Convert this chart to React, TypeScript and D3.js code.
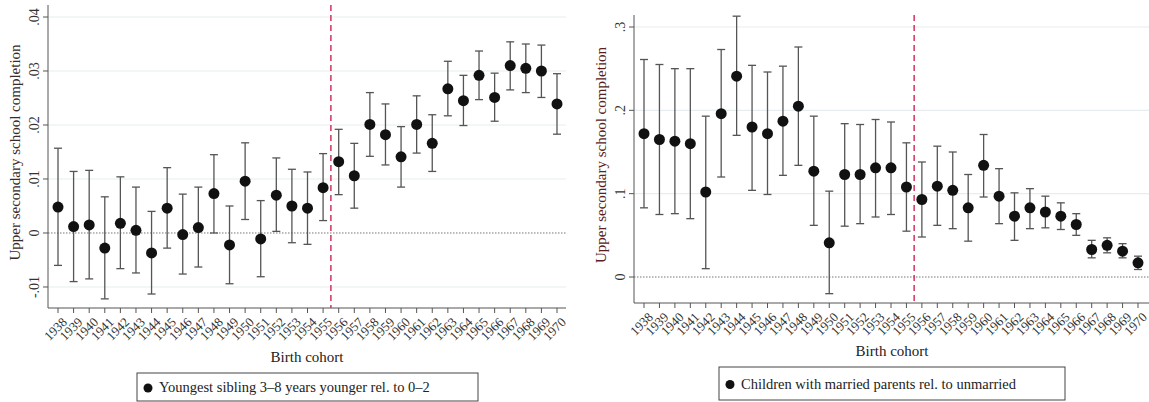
import React from "react";
import * as d3 from "d3";

const years = d3.range(1938, 1971);
const leftVal = [.0048,.0012,.0015,-.0028,.0018,.0005,-.0037,.0046,-.0003,.001,.0073,-.0022,.0096,-.0011,.007,.005,.0046,.0084,.0132,.0106,.0201,.0182,.0141,.0201,.0166,.0267,.0245,.0292,.0251,.031,.0305,.03,.0239];
const leftLo = [-.006,-.009,-.0085,-.0122,-.0066,-.0074,-.0113,-.0028,-.0076,-.0063,0,-.0094,.0025,-.0081,.0003,-.0018,-.0021,.0023,.0071,.0046,.0142,.0126,.0085,.0148,.0114,.0217,.0199,.0247,.0207,.0265,.026,.0251,.0183];
const leftHi = [.0157,.0114,.0116,.0067,.0104,.0085,.004,.0121,.0072,.0085,.0145,.005,.0167,.006,.0139,.0118,.0113,.0147,.0192,.0166,.026,.0239,.0197,.0254,.0219,.0318,.0292,.0337,.0296,.0354,.035,.0348,.0295];
const rightVal = [.172,.165,.163,.16,.102,.196,.241,.18,.172,.187,.205,.127,.041,.123,.123,.131,.131,.108,.093,.109,.104,.083,.134,.097,.073,.083,.078,.073,.063,.033,.038,.031,.017];
const rightLo = [.083,.075,.076,.07,.01,.12,.17,.104,.099,.122,.134,.062,-.02,.061,.064,.072,.075,.055,.048,.062,.058,.043,.096,.064,.044,.058,.059,.057,.05,.023,.029,.023,.009];
const rightHi = [.261,.255,.25,.25,.193,.273,.313,.254,.246,.253,.276,.193,.103,.184,.183,.189,.186,.161,.138,.157,.15,.123,.171,.13,.101,.106,.097,.089,.076,.044,.047,.04,.025];
const leftTicks = [-0.01, 0, 0.01, 0.02, 0.03, 0.04];
const leftTickLabels = ["-.01", "0", ".01", ".02", ".03", ".04"];
const rightTicks = [0, 0.1, 0.2, 0.3];
const rightTickLabels = ["0", ".1", ".2", ".3"];
const legendLeft = "Youngest sibling 3–8 years younger rel. to 0–2";
const legendRight = "Children with married parents rel. to unmarried";

const FONT = "'Times New Roman', 'Liberation Serif', Times, serif";

function Panel({ x0, x1, yTop, yBottom, domain, px, vals, lo, hi, ticks, tickLabels, legend, leg, titleColor }: any) {
  const x = d3.scaleLinear().domain([1938, 1970]).range(px);
  const y = d3.scaleLinear().domain(domain).range([yBottom, yTop]);
  const cap = 4;
  return (
    <g>
      {ticks.map((t: number, i: number) => (
        <g key={i}>
          {t !== 0 && <line x1={x0} x2={x1} y1={y(t)} y2={y(t)} stroke="#e6eef0" strokeWidth={1.2} />}
          <line x1={x0 - 5} x2={x0} y1={y(t)} y2={y(t)} stroke="#555" />
          <text transform={`translate(${x0 - 9},${y(t)}) rotate(-90)`} textAnchor="middle" fontSize={14} fill="#333">{tickLabels[i]}</text>
        </g>
      ))}
      <line x1={x0} x2={x1} y1={y(0)} y2={y(0)} stroke="#777" strokeDasharray="1.5,1.5" />
      <line x1={x0} x2={x0} y1={yTop - 12} y2={yBottom} stroke="#555" />
      <line x1={x0} x2={x1} y1={yBottom} y2={yBottom} stroke="#555" />
      <line x1={x(1955.5)} x2={x(1955.5)} y1={yTop - 12} y2={yBottom} stroke="#d2335f" strokeWidth={1.5} strokeDasharray="6,4" />
      {years.map((yr, i) => (
        <g key={yr}>
          <line x1={x(yr)} x2={x(yr)} y1={y(lo[i])} y2={y(hi[i])} stroke="#555" strokeWidth={1.3} />
          <line x1={x(yr) - cap} x2={x(yr) + cap} y1={y(lo[i])} y2={y(lo[i])} stroke="#555" strokeWidth={1.3} />
          <line x1={x(yr) - cap} x2={x(yr) + cap} y1={y(hi[i])} y2={y(hi[i])} stroke="#555" strokeWidth={1.3} />
          <circle cx={x(yr)} cy={y(vals[i])} r={5.5} fill="#111" />
          <line x1={x(yr)} x2={x(yr)} y1={yBottom} y2={yBottom + 5} stroke="#555" />
          <text transform={`translate(${x(yr) + 3},${yBottom + 8}) rotate(-45)`} textAnchor="end" dominantBaseline="hanging" fontSize={13} fill="#333">{yr}</text>
        </g>
      ))}
      <text transform={`translate(${x0 - 28},${(yTop + yBottom) / 2 - 10}) rotate(-90)`} textAnchor="middle" fontSize={15} fill={titleColor}>Upper secondary school completion</text>
      <text x={leg.tx} y={leg.ty} textAnchor="middle" fontSize={15} fill="#222">Birth cohort</text>
      <rect x={leg.x} y={leg.y} width={leg.w} height={leg.h} fill="white" stroke="#444" />
      <circle cx={leg.x + 11} cy={leg.y + leg.h / 2 + 1} r={4.5} fill="#111" />
      <text x={leg.x + 22} y={leg.y + leg.h / 2 + 5} fontSize={14.5} fill="#222">{legend}</text>
    </g>
  );
}

export default function App() {
  return (
    <svg width={1149} height={402} fontFamily={FONT} style={{ position: "absolute", left: 0, top: 0, background: "white" }}>
      <Panel x0={48} x1={566} yTop={17} yBottom={308} domain={[-0.01389, 0.04]} px={[58, 557]}
        vals={leftVal} lo={leftLo} hi={leftHi} ticks={leftTicks} tickLabels={leftTickLabels}
        legend={legendLeft} titleColor="#3a2a2a"
        leg={{ tx: 307, ty: 362, x: 137, y: 373, w: 341, h: 28 }} />
      <Panel x0={634} x1={1149} yTop={27} yBottom={303} domain={[-0.0312, 0.3]} px={[644, 1138]}
        vals={rightVal} lo={rightLo} hi={rightHi} ticks={rightTicks} tickLabels={rightTickLabels}
        legend={legendRight} titleColor="#5a2020"
        leg={{ tx: 892, ty: 356, x: 719, y: 367, w: 346, h: 33 }} />
    </svg>
  );
}
